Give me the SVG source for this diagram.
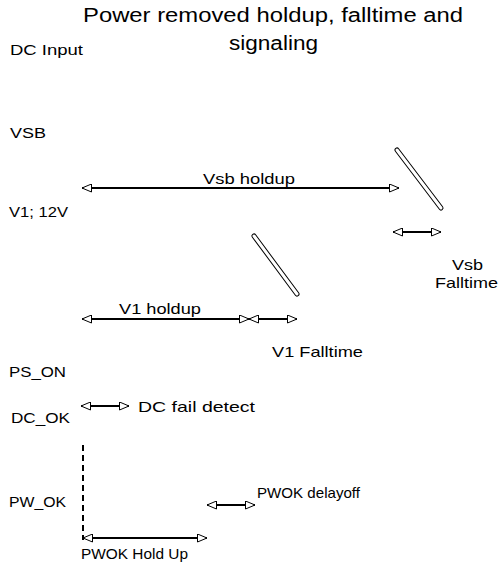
<svg xmlns="http://www.w3.org/2000/svg" width="500" height="566" viewBox="0 0 500 566">
<style>
text{font-family:"Liberation Sans",Arial,sans-serif;font-size:15px;fill:#000}
.title{font-size:20px;text-anchor:middle}
.arr{stroke:#000;stroke-width:2;fill:none;marker-start:url(#ah);marker-end:url(#ah)}
.slo{stroke:#000;stroke-width:5;stroke-linecap:round}
.sli{stroke:#fff;stroke-width:3;stroke-linecap:round}
</style>
<defs>
<marker id="ah" viewBox="0 0 11 9" refX="10" refY="4.5" markerWidth="11" markerHeight="9" markerUnits="userSpaceOnUse" orient="auto-start-reverse">
<path d="M0.5,0.5 L10,4.5 L0.5,8.5 Z" fill="#fff" stroke="#000" stroke-width="1"/>
</marker>
</defs>
<rect width="500" height="566" fill="#fff"/>
<g id="title">
<text class="title" x="273" y="22" textLength="380" lengthAdjust="spacingAndGlyphs">Power removed holdup, falltime and</text>
<text class="title" x="273.5" y="50" textLength="89" lengthAdjust="spacingAndGlyphs">signaling</text>
</g>
<g id="signal-labels">
<text id="dc-input" x="10" y="55" textLength="73" lengthAdjust="spacingAndGlyphs">DC Input</text>
<text id="vsb" x="10" y="138" textLength="36" lengthAdjust="spacingAndGlyphs">VSB</text>
<text id="v1" x="9" y="217" textLength="59" lengthAdjust="spacingAndGlyphs">V1; 12V</text>
<text id="ps-on" x="9" y="377" textLength="57" lengthAdjust="spacingAndGlyphs">PS_ON</text>
<text id="dc-ok" x="11" y="423" textLength="59" lengthAdjust="spacingAndGlyphs">DC_OK</text>
<text id="pw-ok" x="9" y="507" textLength="57" lengthAdjust="spacingAndGlyphs">PW_OK</text>
</g>
<g id="falls">
<g id="vsb-fall"><line class="slo" x1="397" y1="150" x2="441" y2="208"/><line class="sli" x1="397" y1="150" x2="441" y2="208"/></g>
<g id="v1-fall"><line class="slo" x1="254" y1="236" x2="297" y2="294"/><line class="sli" x1="254" y1="236" x2="297" y2="294"/></g>
</g>
<g id="connectors">
<line class="arr" x1="82" y1="188" x2="399" y2="188"/>
<line class="arr" x1="393" y1="232" x2="441" y2="232"/>
<line class="arr" x1="82" y1="319" x2="249" y2="319"/>
<line class="arr" x1="249" y1="319" x2="297" y2="319"/>
<line class="arr" x1="81" y1="406" x2="129" y2="406"/>
<line class="arr" x1="207" y1="505" x2="255" y2="505"/>
<line class="arr" x1="83" y1="538" x2="207" y2="538"/>
<line x1="83" y1="445" x2="83" y2="540" stroke="#000" stroke-width="2" stroke-dasharray="6,4"/>
</g>
<g id="interval-labels">
<text x="203" y="184" textLength="92" lengthAdjust="spacingAndGlyphs">Vsb holdup</text>
<text x="452" y="270" textLength="31" lengthAdjust="spacingAndGlyphs">Vsb</text>
<text x="435" y="288" textLength="63" lengthAdjust="spacingAndGlyphs">Falltime</text>
<text x="119" y="314" textLength="82" lengthAdjust="spacingAndGlyphs">V1 holdup</text>
<text x="272" y="357" textLength="91" lengthAdjust="spacingAndGlyphs">V1 Falltime</text>
<text x="138" y="412" textLength="117" lengthAdjust="spacingAndGlyphs">DC fail detect</text>
<text x="257" y="498" textLength="103" lengthAdjust="spacingAndGlyphs">PWOK delayoff</text>
<text x="81" y="559" textLength="107" lengthAdjust="spacingAndGlyphs">PWOK Hold Up</text>
</g>
</svg>
